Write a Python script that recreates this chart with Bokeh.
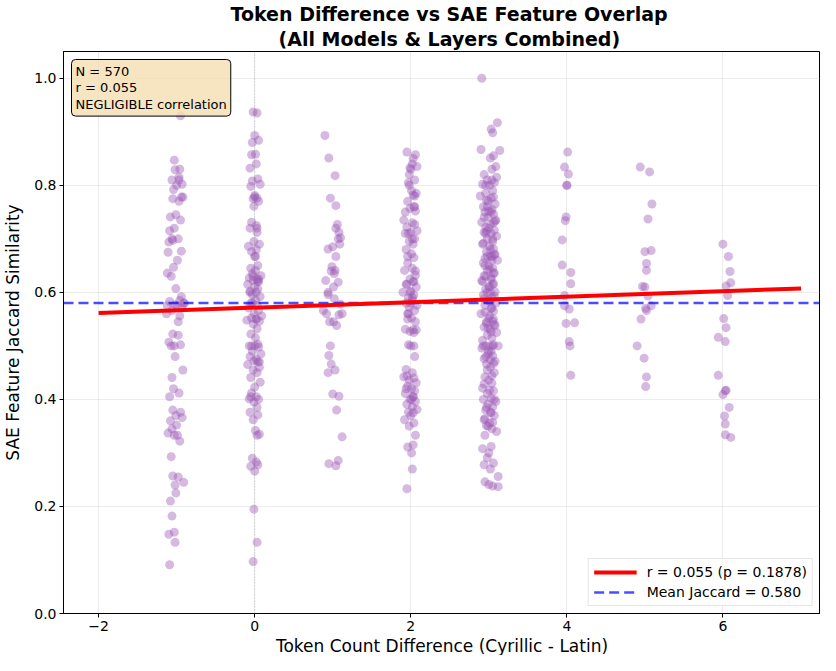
from bokeh.plotting import figure
from bokeh.models import (Range1d, FixedTicker, NumeralTickFormatter, Span, Label,
                          Title, ColumnDataSource, Legend, LegendItem)
from bokeh.embed import file_html
from bokeh.resources import INLINE

FONT = "DejaVu Sans"

# ---- data ----
COLUMNS = [-1, 0, 1, 2, 3, 4, 5, 6]

Y_M1 = [0.930, 0.847, 0.830, 0.829, 0.815, 0.810, 0.802, 0.800, 0.792, 0.778,
        0.775, 0.770, 0.745, 0.741, 0.735, 0.720, 0.715, 0.700, 0.697, 0.694,
        0.677, 0.675, 0.660, 0.647, 0.636, 0.630, 0.607, 0.592, 0.585, 0.583,
        0.580, 0.577, 0.575, 0.571, 0.566, 0.560, 0.556, 0.545, 0.522, 0.520,
        0.507, 0.502, 0.500, 0.480, 0.455, 0.441, 0.420, 0.412, 0.405, 0.380,
        0.376, 0.370, 0.366, 0.360, 0.352, 0.345, 0.337, 0.333, 0.322, 0.293,
        0.257, 0.255, 0.245, 0.240, 0.225, 0.210, 0.182, 0.152, 0.148, 0.133,
        0.091, 0.580, 0.575, 0.700, 0.778, 0.500, 0.333, 0.810]
J_M1 = [0.05, -0.03, 0.04, -0.02, 0.03, -0.06, 0.07, 0.00, -0.04, 0.08,
        -0.05, 0.03, -0.01, -0.08, 0.05, -0.03, -0.09, 0.02, -0.05, -0.10,
        0.06, -0.11, 0.01, -0.04, -0.12, -0.07, -0.01, 0.06, 0.04, -0.09,
        0.09, -0.02, 0.01, 0.07, -0.06, -0.13, 0.04, 0.02, -0.05, 0.02,
        -0.10, 0.05, -0.03, -0.02, 0.08, -0.06, -0.04, 0.03, -0.09, -0.05,
        0.05, -0.01, 0.07, -0.08, 0.00, -0.06, -0.11, -0.03, 0.04, -0.07,
        -0.05, 0.02, 0.09, -0.02, -0.01, -0.08, -0.06, -0.03, -0.10, -0.02,
        -0.09, 0.10, -0.12, -0.06, 0.06, -0.07, 0.01, 0.03]

Y_0 = [0.937, 0.935, 0.893, 0.884, 0.880, 0.858, 0.857, 0.840, 0.832, 0.812,
       0.808, 0.802, 0.798, 0.781, 0.776, 0.775, 0.770, 0.761, 0.731, 0.725,
       0.720, 0.712, 0.695, 0.690, 0.686, 0.680, 0.676, 0.667, 0.650, 0.645,
       0.641, 0.635, 0.631, 0.627, 0.625, 0.622, 0.620, 0.615, 0.611, 0.606,
       0.602, 0.600, 0.596, 0.592, 0.586, 0.580, 0.576, 0.571, 0.566, 0.560,
       0.556, 0.552, 0.550, 0.548, 0.546, 0.541, 0.532, 0.522, 0.515, 0.503,
       0.500, 0.500, 0.498, 0.490, 0.485, 0.480, 0.475, 0.472, 0.470, 0.465,
       0.460, 0.455, 0.450, 0.441, 0.432, 0.423, 0.412, 0.405, 0.401, 0.400,
       0.395, 0.385, 0.376, 0.371, 0.362, 0.342, 0.335, 0.333, 0.290, 0.283,
       0.278, 0.275, 0.266, 0.195, 0.133, 0.097, 0.625, 0.600, 0.550, 0.500,
       0.667, 0.620, 0.580, 0.470, 0.405, 0.778, 0.720, 0.630]
J_0 = [-0.02, 0.03, 0.00, 0.05, -0.03, 0.01, -0.04, 0.02, -0.06, 0.04,
       -0.03, 0.07, -0.05, 0.00, 0.03, -0.02, 0.05, -0.01, -0.04, 0.02,
       -0.06, 0.03, -0.01, 0.06, -0.08, 0.02, -0.04, 0.00, 0.04, -0.05,
       0.01, -0.03, 0.08, -0.07, 0.03, -0.02, 0.05, -0.09, 0.00, 0.04,
       -0.06, 0.02, -0.03, 0.07, 0.01, -0.05, 0.03, -0.08, 0.05, -0.01,
       0.09, -0.04, 0.02, -0.10, 0.06, -0.02, 0.03, -0.05, 0.01, 0.04,
       -0.07, 0.00, 0.05, -0.03, 0.08, -0.06, 0.02, -0.01, 0.04, -0.09,
       0.06, -0.02, 0.03, -0.05, 0.07, 0.00, -0.04, 0.02, -0.07, 0.05,
       -0.01, 0.03, -0.06, 0.04, -0.02, 0.01, 0.06, 0.03, -0.03, 0.02,
       0.04, -0.05, 0.00, -0.01, 0.03, -0.02, 0.05, -0.06, 0.02, -0.04,
       0.01, 0.04, -0.03, 0.06, -0.05, 0.00, 0.03, -0.02]

Y_1 = [0.893, 0.851, 0.818, 0.776, 0.762, 0.727, 0.712, 0.702, 0.690, 0.685,
       0.681, 0.667, 0.648, 0.641, 0.622, 0.619, 0.610, 0.596, 0.588, 0.578,
       0.566, 0.560, 0.558, 0.545, 0.538, 0.500, 0.482, 0.466, 0.455, 0.450,
       0.410, 0.406, 0.380, 0.330, 0.286, 0.280, 0.276, 0.720, 0.635, 0.600,
       0.700, 0.560, 0.640, 0.545]
J_1 = [-0.10, -0.05, 0.03, -0.03, 0.04, 0.06, 0.08, 0.10, 0.09, 0.00,
       -0.06, 0.04, -0.01, 0.03, -0.09, 0.07, 0.01, -0.06, 0.02, 0.10,
       -0.12, -0.08, 0.08, -0.04, 0.05, -0.03, -0.05, -0.02, 0.03, -0.06,
       0.00, 0.08, 0.05, 0.12, 0.07, -0.05, 0.04, 0.04, 0.02, -0.06,
       0.07, 0.12, -0.02, 0.01]

Y_2 = [0.862, 0.857, 0.850, 0.840, 0.835, 0.830, 0.820, 0.810, 0.805, 0.790,
       0.785, 0.782, 0.770, 0.760, 0.757, 0.752, 0.735, 0.730, 0.722, 0.715,
       0.712, 0.710, 0.700, 0.695, 0.690, 0.680, 0.672, 0.665, 0.655, 0.645,
       0.641, 0.632, 0.625, 0.620, 0.615, 0.610, 0.602, 0.600, 0.595, 0.590,
       0.585, 0.580, 0.576, 0.572, 0.566, 0.560, 0.552, 0.545, 0.531, 0.530,
       0.527, 0.525, 0.502, 0.500, 0.480, 0.456, 0.450, 0.442, 0.440, 0.436,
       0.431, 0.425, 0.420, 0.416, 0.411, 0.405, 0.400, 0.396, 0.391, 0.386,
       0.381, 0.376, 0.370, 0.362, 0.356, 0.350, 0.333, 0.315, 0.311, 0.300,
       0.270, 0.233, 0.760, 0.710, 0.620, 0.600, 0.530, 0.420, 0.405, 0.800,
       0.780, 0.750, 0.700, 0.667, 0.640, 0.580, 0.560, 0.500, 0.444, 0.400,
       0.375, 0.833, 0.727, 0.615, 0.590, 0.550]
J_2 = [-0.05, 0.06, 0.03, 0.02, 0.08, 0.00, -0.02, 0.05, -0.03, 0.01,
       0.07, 0.03, -0.04, 0.04, -0.01, 0.06, -0.09, 0.02, -0.05, 0.08,
       0.00, -0.07, 0.05, -0.02, 0.03, -0.06, 0.01, 0.04, -0.04, 0.02,
       -0.08, 0.06, -0.01, 0.03, -0.05, 0.07, 0.00, -0.10, 0.04, -0.03,
       0.02, -0.06, 0.08, -0.02, 0.05, -0.04, 0.01, 0.06, -0.07, 0.03,
       -0.01, 0.04, -0.03, 0.00, 0.05, -0.06, 0.02, -0.09, 0.04, -0.02,
       0.07, -0.04, 0.01, 0.05, -0.07, 0.03, -0.01, 0.06, -0.05, 0.02,
       0.08, -0.03, 0.00, -0.08, 0.04, -0.02, 0.06, 0.03, -0.04, 0.01,
       0.02, -0.05, 0.05, -0.03, 0.04, -0.01, 0.07, -0.06, 0.03, -0.02,
       0.05, -0.07, 0.02, -0.04, 0.06, 0.00, -0.03, 0.04, -0.05, 0.01,
       0.03, -0.01, 0.05, -0.06, 0.02, -0.04]

Y_3 = [1.000, 0.917, 0.905, 0.898, 0.867, 0.865, 0.855, 0.851, 0.835, 0.830,
       0.820, 0.815, 0.810, 0.805, 0.802, 0.800, 0.790, 0.785, 0.780, 0.776,
       0.772, 0.765, 0.760, 0.755, 0.752, 0.750, 0.746, 0.741, 0.735, 0.731,
       0.727, 0.722, 0.716, 0.712, 0.710, 0.705, 0.700, 0.695, 0.690, 0.686,
       0.681, 0.676, 0.671, 0.667, 0.667, 0.664, 0.660, 0.655, 0.650, 0.645,
       0.641, 0.636, 0.631, 0.627, 0.622, 0.616, 0.611, 0.606, 0.601, 0.600,
       0.595, 0.590, 0.585, 0.580, 0.576, 0.570, 0.565, 0.560, 0.551, 0.546,
       0.542, 0.540, 0.535, 0.531, 0.525, 0.520, 0.515, 0.510, 0.502, 0.500,
       0.500, 0.500, 0.496, 0.490, 0.485, 0.481, 0.476, 0.471, 0.466, 0.460,
       0.450, 0.442, 0.436, 0.430, 0.421, 0.416, 0.411, 0.402, 0.400, 0.396,
       0.391, 0.386, 0.380, 0.376, 0.370, 0.362, 0.356, 0.351, 0.345, 0.340,
       0.333, 0.312, 0.308, 0.300, 0.291, 0.281, 0.278, 0.270, 0.256, 0.246,
       0.241, 0.238, 0.237, 0.800, 0.778, 0.770, 0.750, 0.740, 0.733, 0.720,
       0.714, 0.700, 0.692, 0.680, 0.670, 0.667, 0.660, 0.650, 0.643, 0.636,
       0.630, 0.625, 0.620, 0.615, 0.610, 0.600, 0.593, 0.588, 0.583, 0.571,
       0.563, 0.556, 0.550, 0.545, 0.538, 0.533, 0.526, 0.500, 0.500, 0.490,
       0.480, 0.474, 0.467, 0.455, 0.444, 0.429, 0.417, 0.400, 0.385, 0.375,
       0.364, 0.357, 0.350, 0.810, 0.760, 0.730, 0.710]
J_3 = [-0.09, 0.11, 0.03, 0.05, -0.10, 0.14, 0.06, 0.02, 0.09, 0.04,
       -0.06, 0.10, -0.02, 0.07, -0.08, 0.01, 0.05, -0.04, -0.11, 0.03,
       -0.03, 0.08, -0.07, 0.04, 0.00, -0.05, 0.06, -0.01, 0.09, -0.09,
       0.02, -0.04, 0.07, -0.06, 0.03, 0.10, -0.02, 0.05, -0.08, 0.01,
       0.06, -0.03, 0.08, 0.02, 0.04, -0.05, 0.11, -0.07, 0.00, 0.05,
       -0.02, 0.07, -0.06, 0.03, -0.09, 0.06, 0.01, -0.04, 0.08, 0.02,
       -0.07, 0.04, -0.01, 0.09, -0.05, 0.03, 0.06, -0.10, 0.00, 0.05,
       -0.03, 0.07, -0.06, 0.02, 0.10, -0.02, 0.04, -0.08, 0.06, 0.01,
       -0.04, 0.12, -0.09, 0.03, -0.01, 0.05, -0.06, 0.08, -0.03, 0.02,
       0.07, -0.05, 0.00, 0.04, -0.08, 0.06, -0.02, 0.03, -0.07, 0.09,
       -0.01, 0.05, -0.04, 0.02, 0.07, -0.06, 0.01, -0.03, 0.04, 0.10,
       -0.05, 0.03, -0.08, 0.00, -0.02, 0.06, -0.06, 0.02, 0.12, -0.05,
       0.00, 0.05, 0.12, -0.04, 0.06, -0.01, 0.03, -0.06, 0.08, 0.00,
       -0.03, 0.05, -0.07, 0.02, 0.07, -0.02, 0.04, -0.05, 0.01, 0.06,
       -0.04, 0.03, -0.08, 0.05, 0.00, -0.02, 0.07, -0.06, 0.02, 0.04,
       -0.05, 0.01, 0.06, -0.03, 0.08, -0.01, 0.03, -0.07, 0.05, 0.00,
       -0.04, 0.02, 0.06, -0.02, 0.04, -0.06, 0.01, 0.07, -0.03, 0.03,
       -0.05, 0.05, -0.01, 0.04, -0.02, 0.06, -0.04]

Y_4 = [0.862, 0.834, 0.821, 0.800, 0.800, 0.741, 0.734, 0.698, 0.651, 0.637,
       0.616, 0.594, 0.575, 0.569, 0.542, 0.543, 0.508, 0.500, 0.445]
J_4 = [0.01, -0.03, 0.02, 0.00, 0.00, -0.01, -0.02, -0.06, -0.06, 0.05,
       0.05, -0.03, -0.03, 0.03, -0.01, 0.10, 0.03, 0.04, 0.05]

Y_5 = [0.834, 0.825, 0.765, 0.737, 0.678, 0.676, 0.654, 0.641, 0.611, 0.610,
       0.593, 0.575, 0.570, 0.566, 0.550, 0.500, 0.477, 0.442, 0.424]
J_5 = [-0.06, 0.06, 0.09, 0.04, 0.08, 0.00, 0.02, 0.02, -0.03, 0.00,
       0.04, 0.08, 0.01, 0.02, -0.05, -0.10, -0.01, 0.02, 0.01]

Y_6 = [0.690, 0.667, 0.639, 0.618, 0.612, 0.594, 0.551, 0.534, 0.516, 0.508,
       0.445, 0.417, 0.416, 0.409, 0.385, 0.369, 0.354, 0.334, 0.329]
J_6 = [0.00, 0.07, 0.09, 0.10, 0.04, 0.06, 0.01, 0.04, -0.06, 0.03,
       -0.06, 0.04, 0.03, 0.00, 0.08, 0.02, 0.03, 0.03, 0.10]

Y_COLS = [Y_M1, Y_0, Y_1, Y_2, Y_3, Y_4, Y_5, Y_6]
J_COLS = [J_M1, J_0, J_1, J_2, J_3, J_4, J_5, J_6]

N_POINTS = 570
R_VALUE = 0.055
P_VALUE = 0.1878
MEAN_JACCARD = 0.580
FIT_INTERCEPT = 0.5715
FIT_SLOPE = 0.0051
FIT_X = [-2, 7]

X_TICKS = [-2, 0, 2, 4, 6]
Y_TICKS = [0.0, 0.2, 0.4, 0.6, 0.8, 1.0]
X_LO, X_HI = -2.45, 7.25
Y_LO, Y_HI = 0.0, 1.05

TITLE_1 = "Token Difference vs SAE Feature Overlap"
TITLE_2 = "(All Models & Layers Combined)"
X_LABEL = "Token Count Difference (Cyrillic - Latin)"
Y_LABEL = "SAE Feature Jaccard Similarity"

# ---- build point table ----
xs, ys = [], []
for c, yc, jc in zip(COLUMNS, Y_COLS, J_COLS):
    for yv, jv in zip(yc, jc):
        xs.append(c + jv)
        ys.append(yv)
src = ColumnDataSource(dict(x=xs, y=ys))

p = figure(width=820, height=655, x_range=Range1d(X_LO, X_HI),
           y_range=Range1d(Y_LO, Y_HI), output_backend="svg",
           toolbar_location=None, min_border_right=0, min_border_left=0,
           min_border_top=0, min_border_bottom=0,
           title=TITLE_1)
p.title.text_font = FONT
p.title.text_font_size = "19px"
p.title.text_font_style = "bold"
p.title.text_color = "black"
p.title.align = "left"
p.title.offset = 167
p.title.standoff = 0
t2 = Title(text=TITLE_2, text_font=FONT, text_color="black",
           text_font_size="19px", text_font_style="bold", align="left",
           offset=215, standoff=3)
p.add_layout(t2, "above")

p.outline_line_color = "black"
p.outline_line_width = 1
p.background_fill_color = "white"
p.border_fill_color = "white"

for ax in (p.xaxis[0], p.yaxis[0]):
    ax.axis_line_color = "black"
    ax.major_tick_line_color = "black"
    ax.major_tick_out = 4
    ax.major_tick_in = 0
    ax.minor_tick_line_color = None
    ax.major_label_text_font = FONT
    ax.major_label_text_font_size = "14px"
    ax.major_label_text_color = "black"
    ax.major_label_standoff = 3
    ax.axis_label_text_font = FONT
    ax.axis_label_text_font_size = "17px"
    ax.axis_label_text_font_style = "normal"
    ax.axis_label_text_color = "black"
    ax.axis_label_standoff = 3

p.xaxis.ticker = FixedTicker(ticks=X_TICKS)
p.xaxis.major_label_overrides = {t: (f"\u2212{abs(t)}" if t < 0 else str(t)) for t in X_TICKS}
p.yaxis.ticker = FixedTicker(ticks=Y_TICKS)
p.yaxis.formatter = NumeralTickFormatter(format="0.0")
p.yaxis.axis_label = Y_LABEL
p.yaxis.axis_label_standoff = 8

xlab = Title(text=X_LABEL, text_font=FONT, text_color="black",
             text_font_size="17px", text_font_style="normal", align="center",
             standoff=0, offset=5)
p.add_layout(xlab, "below")

p.grid.grid_line_color = "#b0b0b0"
p.grid.grid_line_alpha = 0.3
p.grid.grid_line_width = 0.8
p.xgrid.ticker = FixedTicker(ticks=X_TICKS)
p.ygrid.ticker = FixedTicker(ticks=Y_TICKS)

p.scatter("x", "y", source=src, size=9, fill_color="#9b59b6", fill_alpha=0.42,
          line_color=None)

p.add_layout(Span(location=0, dimension="height", line_color="gray",
                  line_alpha=0.6, line_width=0.8, line_dash="1 2"))

mean_r = p.line([X_LO, X_HI], [MEAN_JACCARD, MEAN_JACCARD], line_color="blue",
                line_alpha=0.7, line_width=2.5, line_dash="10 5")
fit_y = [FIT_INTERCEPT + FIT_SLOPE * xv for xv in FIT_X]
fit_r = p.line(FIT_X, fit_y, line_color="red", line_width=4)

legend = Legend(items=[
    LegendItem(label=f"r = {R_VALUE:.3f} (p = {P_VALUE:.4f})", renderers=[fit_r]),
    LegendItem(label=f"Mean Jaccard = {MEAN_JACCARD:.3f}", renderers=[mean_r]),
], location="bottom_right")
legend.label_text_font = FONT
legend.label_text_font_size = "14px"
legend.label_text_color = "black"
legend.border_line_color = "#cccccc"
legend.border_line_width = 1
legend.background_fill_alpha = 0.8
legend.glyph_width = 43
legend.glyph_height = 16
legend.spacing = 4
legend.padding = 5
legend.margin = 7
legend.label_standoff = 10
p.add_layout(legend)

box = Label(x=X_LO, y=Y_HI, x_offset=8, y_offset=-8,
            text=f"N = {N_POINTS}\nr = {R_VALUE:.3f}\nNEGLIGIBLE correlation",
            text_font=FONT, text_font_size="13px", text_align="left",
            text_color="black", text_line_height=1.12,
            text_baseline="top", background_fill_color="wheat",
            background_fill_alpha=0.8, border_line_color="black",
            border_line_width=1, padding=4, border_radius=4)
p.add_layout(box)

open("out.html", "w").write(file_html(p, INLINE))
